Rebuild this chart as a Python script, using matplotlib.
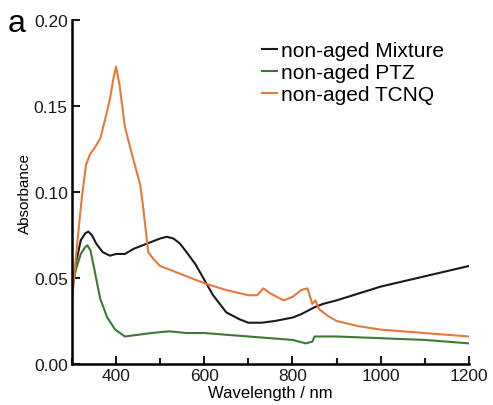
import matplotlib
matplotlib.use("Agg")
import matplotlib.pyplot as plt
from matplotlib.ticker import MultipleLocator, FormatStrFormatter

plt.rcParams['font.family'] = ['Liberation Sans', 'DejaVu Sans']

# non-aged Mixture
mix_wl = [300, 310, 320, 330, 337, 345, 355, 370, 386, 400, 420, 440, 460, 480,
          500, 515, 530, 545, 560, 580, 600, 620, 650, 680, 700, 730, 760, 800,
          820, 835, 850, 870, 900, 950, 1000, 1050, 1100, 1150, 1200]
mix_abs = [0.044, 0.060, 0.072, 0.076, 0.077, 0.075, 0.070, 0.065, 0.063, 0.064,
           0.064, 0.067, 0.069, 0.071, 0.073, 0.074, 0.073, 0.070, 0.065, 0.058,
           0.049, 0.040, 0.030, 0.026, 0.024, 0.024, 0.025, 0.027, 0.029, 0.031,
           0.033, 0.035, 0.037, 0.041, 0.045, 0.048, 0.051, 0.054, 0.057]

# non-aged PTZ
ptz_wl = [300, 310, 320, 330, 335, 342, 350, 364, 380, 398, 420, 450, 480, 520,
          560, 600, 650, 700, 750, 800, 815, 830, 845, 850, 870, 900, 1000, 1100, 1200]
ptz_abs = [0.044, 0.056, 0.064, 0.068, 0.069, 0.066, 0.056, 0.038, 0.027, 0.020,
           0.016, 0.017, 0.018, 0.019, 0.018, 0.018, 0.017, 0.016, 0.015, 0.014,
           0.013, 0.012, 0.013, 0.016, 0.016, 0.016, 0.015, 0.014, 0.012]

# non-aged TCNQ
tcnq_wl = [300, 310, 322, 332, 341, 352, 364, 375, 386, 394, 400, 408, 420, 439,
           455, 462, 473, 485, 500, 550, 600, 650, 700, 720, 734, 750, 780, 800,
           820, 834, 845, 852, 860, 880, 900, 950, 1000, 1050, 1100, 1150, 1200]
tcnq_abs = [0.036, 0.065, 0.096, 0.116, 0.122, 0.126, 0.131, 0.142, 0.154, 0.166,
            0.173, 0.162, 0.138, 0.119, 0.104, 0.090, 0.065, 0.061, 0.057, 0.052,
            0.047, 0.043, 0.040, 0.040, 0.044, 0.041, 0.037, 0.039, 0.043, 0.044,
            0.035, 0.037, 0.032, 0.028, 0.025, 0.022, 0.020, 0.019, 0.018, 0.017, 0.016]

fig = plt.figure(figsize=(4.93, 4.06), dpi=100)
ax = fig.add_axes([0.146, 0.101, 0.805, 0.847])

ax.plot(mix_wl, mix_abs, color='#1a1a1a', lw=1.5, label='non-aged Mixture')
ax.plot(ptz_wl, ptz_abs, color='#3b7a35', lw=1.5, label='non-aged PTZ')
ax.plot(tcnq_wl, tcnq_abs, color='#e8783a', lw=1.5, label='non-aged TCNQ')

ax.set_xlim(300, 1200)
ax.set_ylim(0, 0.20)
ax.xaxis.set_major_locator(MultipleLocator(200))
ax.xaxis.set_minor_locator(MultipleLocator(100))
ax.yaxis.set_major_locator(MultipleLocator(0.05))
ax.yaxis.set_major_formatter(FormatStrFormatter('%.2f'))
ax.tick_params(which='both', direction='in', width=1.5, labelsize=12.5,
               colors='#1a1a1a', pad=3)
ax.tick_params(which='major', length=6)
ax.tick_params(which='minor', length=4)
for s in ['top', 'right']:
    ax.spines[s].set_visible(False)
for s in ['left', 'bottom']:
    ax.spines[s].set_linewidth(1.8)

ax.set_xlabel('Wavelength / nm', fontsize=12, labelpad=1)
ax.set_ylabel('Absorbance', fontsize=11, labelpad=1)

fig.legend(loc='upper left', bbox_to_anchor=(262 / 493, 1 - 42 / 406), frameon=False,
           fontsize=15, handlelength=0.7, handletextpad=0.2, labelspacing=0.15,
           borderpad=0, borderaxespad=0)

fig.text(8 / 493, 1 - 32 / 406, 'a', fontsize=23, va='baseline')

fig.savefig('out.png', dpi=100)
